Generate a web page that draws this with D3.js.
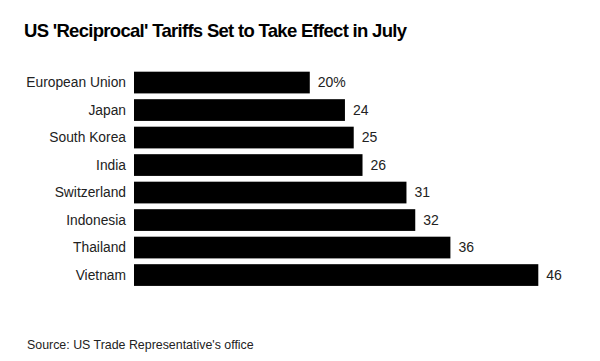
<!DOCTYPE html>
<html>
<head>
<meta charset="utf-8">
<script src="https://cdn.jsdelivr.net/npm/d3@7"></script>
<style>
  html, body { margin: 0; padding: 0; background: #fff; }
  svg { display: block; font-family: "Liberation Sans", Arial, sans-serif; }
</style>
</head>
<body>
<div id="chart"></div>
<script>
  // tariff rates, percent
  var countries = ["European Union", "Japan", "South Korea", "India", "Switzerland", "Indonesia", "Thailand", "Vietnam"];
  var rates = [20, 24, 25, 26, 31, 32, 36, 46];
  var valueLabels = ["20%", "24", "25", "26", "31", "32", "36", "46"];

  var W = 600, H = 361;
  var svg = d3.select("#chart").append("svg").attr("width", W).attr("height", H);

  var x = d3.scaleLinear().domain([0, 46]).range([134, 538.3]);
  var y = d3.scaleBand().domain(countries).range([68.8, 288.8]).paddingInner(0.21).paddingOuter(0.105);

  svg.append("text")
    .attr("x", 24).attr("y", 36.5)
    .attr("font-size", 18.5).attr("font-weight", "bold").attr("fill", "#000")
    .attr("letter-spacing", -0.7)
    .text("US 'Reciprocal' Tariffs Set to Take Effect in July");

  var rows = svg.selectAll("g.row")
    .data(countries.map(function (c, i) { return { name: c, v: rates[i], lab: valueLabels[i] }; }))
    .enter().append("g").attr("class", "row");

  rows.append("rect")
    .attr("x", x(0))
    .attr("y", function (d) { return y(d.name); })
    .attr("width", function (d) { return x(d.v) - x(0); })
    .attr("height", y.bandwidth())
    .attr("fill", "#000");

  rows.append("text")
    .attr("x", 126)
    .attr("y", function (d) { return y(d.name) + y.bandwidth() / 2; })
    .attr("dy", "0.35em")
    .attr("text-anchor", "end")
    .attr("font-size", 13.8).attr("fill", "#222")
    .text(function (d) { return d.name; });

  rows.append("text")
    .attr("x", function (d) { return x(d.v) + 8; })
    .attr("y", function (d) { return y(d.name) + y.bandwidth() / 2; })
    .attr("dy", "0.35em")
    .attr("font-size", 14).attr("fill", "#222")
    .text(function (d) { return d.lab; });

  svg.append("text")
    .attr("x", 27).attr("y", 348.5)
    .attr("font-size", 12.4).attr("fill", "#222")
    .text("Source: US Trade Representative's office");
</script>
</body>
</html>
